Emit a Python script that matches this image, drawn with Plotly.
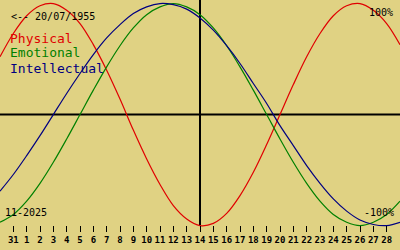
import plotly.graph_objects as go

# day offsets (0 = 31 Oct 2025), curves extend one day beyond each side
day_index = list(range(-1, 30))
tick_index = list(range(0, 29))
tick_labels = ["31"] + [str(d) for d in range(1, 29)]

physical = [0.52, 0.73, 0.89, 0.98, 1.00, 0.94, 0.82, 0.63, 0.40, 0.14, -0.14,
            -0.40, -0.63, -0.82, -0.94, -1.00, -0.98, -0.89, -0.73, -0.52, -0.27,
            0.00, 0.27, 0.52, 0.73, 0.89, 0.98, 1.00, 0.94, 0.82, 0.63]
emotional = [-0.97, -0.90, -0.78, -0.62, -0.43, -0.22, 0.00, 0.22, 0.43, 0.62, 0.78,
             0.90, 0.97, 1.00, 0.97, 0.90, 0.78, 0.62, 0.43, 0.22, 0.00,
             -0.22, -0.43, -0.62, -0.78, -0.90, -0.97, -1.00, -0.97, -0.90, -0.78]
intellectual = [-0.69, -0.54, -0.37, -0.19, 0.00, 0.19, 0.37, 0.54, 0.69, 0.81, 0.91,
                0.97, 1.00, 0.99, 0.95, 0.87, 0.76, 0.62, 0.46, 0.28, 0.10,
                -0.10, -0.28, -0.46, -0.62, -0.76, -0.87, -0.95, -0.99, -1.00, -0.97]
today_index = 14

BG = "#e0d283"
MONO = "DejaVu Sans Mono"

fig = go.Figure()
for name, vals, col in [("Physical", physical, "#e00000"),
                        ("Emotional", emotional, "#008000"),
                        ("Intellectual", intellectual, "#000080")]:
    fig.add_trace(go.Scatter(x=day_index, y=vals, mode="lines", name=name,
                             line=dict(color=col, width=1.2, shape="spline"),
                             hoverinfo="skip"))

fig.add_shape(type="line", xref="paper", yref="y", x0=0, x1=1, y0=0, y1=0,
              line=dict(color="black", width=2), layer="below")
fig.add_shape(type="line", xref="x", yref="paper", x0=today_index, x1=today_index,
              y0=0.1, y1=1, line=dict(color="black", width=2), layer="below")

def txt(s, px, py, size, color="black", anchor="left"):
    fig.add_annotation(text=s, x=px / 400, y=1 - py / 250, xref="paper", yref="paper",
                       xanchor=anchor, yanchor="middle", showarrow=False,
                       font=dict(family=MONO, size=size, color=color))

txt("&lt;-- 20/07/1955", 9, 16, 10)
txt("Physical", 8, 38, 13, "#e00000")
txt("Emotional", 8, 53, 13, "#008000")
txt("Intellectual", 8, 68, 13, "#000080")
txt("100%", 395, 12, 10, anchor="right")
txt("-100%", 396, 212, 10, anchor="right")
txt("11-2025", 3, 212, 10)

fig.update_layout(
    width=400, height=250, margin=dict(l=0, r=0, t=0, b=0),
    paper_bgcolor=BG, plot_bgcolor=BG, showlegend=False,
    xaxis=dict(range=[-1, 29], tickvals=tick_index, ticktext=tick_labels,
               tickangle=0, ticks="outside", ticklen=6, tickwidth=1, tickcolor="black",
               showgrid=False, zeroline=False, showline=False,
               anchor="free", position=0.1,
               tickfont=dict(family=MONO, size=9, color="black", weight="bold")),
    yaxis=dict(range=[-1.22, 1.032], visible=False, showgrid=False, zeroline=False),
)

fig.write_html("out.html")
